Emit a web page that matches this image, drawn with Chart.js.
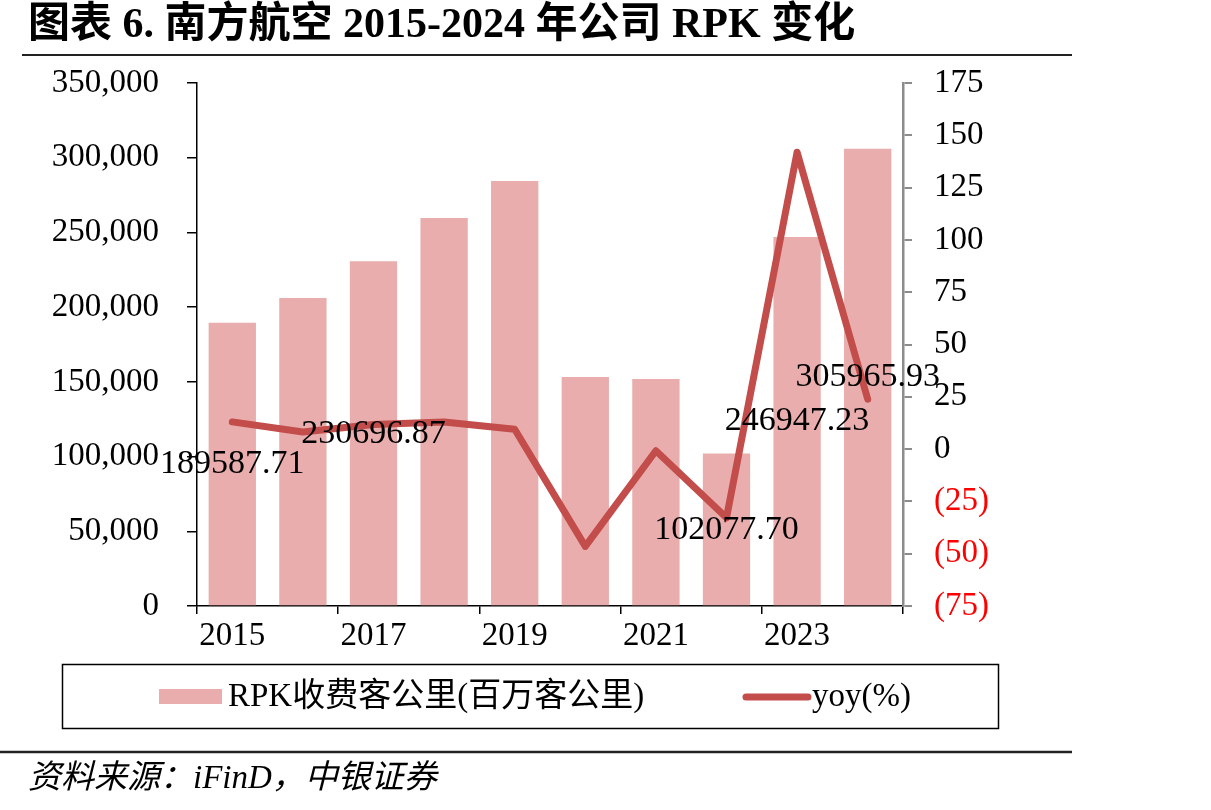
<!DOCTYPE html>
<html><head><meta charset="utf-8">
<script src="https://cdn.jsdelivr.net/npm/chart.js@4.4.1/dist/chart.umd.min.js"></script>
<style>html,body{margin:0;padding:0;background:#fff;}</style>
</head><body>
<canvas id="c" width="1211" height="810"></canvas>
<script>
// ---- data ----
const years = ['2015','2016','2017','2018','2019','2020','2021','2022','2023','2024'];
const rpk = [189587.71, 206100, 230696.87, 259700, 284400, 153300, 151900, 102077.70, 246947.23, 305965.93];
const yoy = [13.0, 8.2, 11.8, 13.0, 9.5, -46.5, -0.8, -32.8, 141.9, 23.9];
const labelledYears = ['2015','2017','2022','2023','2024'];
const seriesNames = ['RPK收费客公里(百万客公里)', 'yoy(%)'];
const titleText = '图表 6. 南方航空 2015-2024 年公司 RPK 变化';
const sourceText = '资料来源：iFinD，中银证券';

const SERIF = '"Liberation Serif", "Times New Roman", "Noto Sans CJK SC", serif';
const BAR_COLOR = '#E8ADAC';
const LINE_COLOR = '#C24D4A';

const decor = {
  id: 'decor',
  beforeDraw(chart) {
    const c = chart.ctx;
    c.save();
    c.fillStyle = '#fff';
    c.fillRect(0, 0, chart.width, chart.height);
    c.restore();
  },
  afterDatasetsDraw(chart) {
    const c = chart.ctx;
    const meta = chart.getDatasetMeta(1);
    const ys = chart.scales.y;
    c.save();
    c.font = '34px ' + SERIF;
    c.fillStyle = '#000';
    c.textAlign = 'center';
    c.textBaseline = 'middle';
    years.forEach((yr, i) => {
      if (!labelledYears.includes(yr)) return;
      const el = meta.data[i];
      const v = rpk[i];
      const y = ys.getPixelForValue(v / 2);
      c.fillText(v.toFixed(2), el.x, y);
    });
    c.restore();
  },
  afterDraw(chart) {
    const c = chart.ctx;
    c.save();
    // title
    c.fillStyle = '#000';
    c.font = 'bold 42px ' + SERIF;
    c.textBaseline = 'middle';
    c.textAlign = 'left';
    c.fillText(titleText, 28, 26);
    // rules
    c.strokeStyle = '#222';
    c.lineWidth = 2;
    c.beginPath(); c.moveTo(22, 55); c.lineTo(1072, 55); c.stroke();
    c.lineWidth = 2.5;
    c.beginPath(); c.moveTo(0, 752); c.lineTo(1072, 752); c.stroke();
    // legend box
    c.lineWidth = 1.5;
    c.strokeStyle = '#000';
    c.strokeRect(62.5, 664.5, 936, 64);
    c.fillStyle = BAR_COLOR;
    c.fillRect(159, 689, 63, 15);
    c.fillStyle = '#000';
    c.font = '33px ' + SERIF;
    c.fillText(seriesNames[0], 228, 697);
    c.strokeStyle = LINE_COLOR;
    c.lineWidth = 7;
    c.lineCap = 'round';
    c.beginPath(); c.moveTo(746, 697); c.lineTo(808, 697); c.stroke();
    c.fillStyle = '#000';
    c.fillText(seriesNames[1], 812, 697);
    // source
    c.font = 'italic 33px ' + SERIF;
    c.fillText(sourceText, 28, 779);
    c.restore();
  }
};

const tickFont = { family: SERIF, size: 33 };

new Chart(document.getElementById('c'), {
  data: {
    labels: years,
    datasets: [
      { type: 'line', label: seriesNames[1], data: yoy, yAxisID: 'y1', borderColor: LINE_COLOR,
        borderWidth: 7, pointRadius: 0, tension: 0, order: 0, borderCapStyle: 'round', borderJoinStyle: 'round' },
      { type: 'bar', label: seriesNames[0], data: rpk, yAxisID: 'y', backgroundColor: BAR_COLOR,
        barPercentage: 0.67, categoryPercentage: 1, order: 1 }
    ]
  },
  options: {
    responsive: false, animation: false, devicePixelRatio: 1,
    layout: { padding: { top: 83, left: 0, right: 0, bottom: 0 } },
    plugins: { legend: { display: false }, tooltip: { enabled: false } },
    scales: {
      x: {
        offset: true,
        grid: { offset: true, drawOnChartArea: false, drawTicks: true, tickLength: 8, lineWidth: 1.5,
          color: ctx => (ctx.index === undefined || ctx.index % 2 === 0) ? '#000' : 'rgba(0,0,0,0)' },
        border: { color: '#000', width: 1.5 },
        ticks: { autoSkip: false, maxRotation: 0, font: tickFont, color: '#000', padding: 3,
          callback: (v, i) => (i % 2 === 0 ? years[i] : '') },
        afterFit: s => { s.height = 204; }
      },
      y: {
        position: 'left', min: 0, max: 350000,
        ticks: { stepSize: 50000, font: tickFont, color: '#000', padding: 28,
          callback: v => v.toLocaleString('en-US') },
        grid: { drawOnChartArea: false, tickLength: 10, color: '#000', lineWidth: 1.5 },
        border: { color: '#000', width: 1.5 },
        afterFit: s => { s.width = 197; }
      },
      y1: {
        position: 'right', min: -75, max: 175,
        ticks: { stepSize: 25, font: tickFont, padding: 22,
          color: ctx => (ctx.tick && ctx.tick.value < 0) ? '#FF0000' : '#000',
          callback: v => (v < 0 ? '(' + (-v) + ')' : String(v)) },
        grid: { drawOnChartArea: false, tickLength: 9, color: '#8c8c8c', lineWidth: 2 },
        border: { color: '#8c8c8c', width: 2.5 },
        afterFit: s => { s.width = 308; }
      }
    }
  },
  plugins: [decor]
});
</script>
</body></html>
